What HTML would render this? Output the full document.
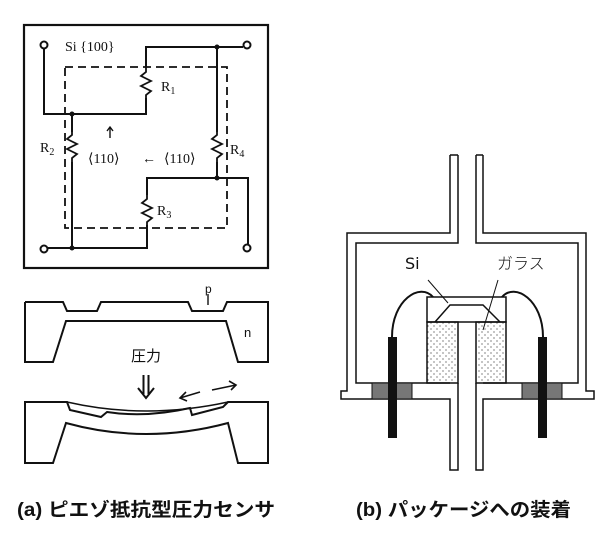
<!DOCTYPE html>
<html><head><meta charset="utf-8"><style>
html,body{margin:0;padding:0;background:#fff;}
svg{display:block;}
</style></head><body>
<svg width="600" height="540" viewBox="0 0 600 540" xmlns="http://www.w3.org/2000/svg">
<defs>
<pattern id="dots" width="6" height="6" patternUnits="userSpaceOnUse">
<circle cx="2" cy="2" r="0.6" fill="#333"/><circle cx="5" cy="5" r="0.6" fill="#333"/>
</pattern>
</defs>
<g fill="none" stroke="#111" stroke-width="2">
<!-- left panel box -->
<rect x="24" y="25" width="244" height="243" stroke-width="2.2"/>
<rect x="65" y="67" width="162" height="161" stroke-dasharray="8,5" stroke-width="1.8"/>
<!-- wires -->
<polyline points="44,49 44,114 146,114 146,98"/>
<polyline points="146,67 146,47 243,47"/>
<polyline points="217,47 217,132"/>
<polyline points="217,162 217,178"/>
<polyline points="147,195 147,178 248,178 248,244"/>
<polyline points="48,248 147,248 147,225"/>
<polyline points="72,114 72,132"/>
<polyline points="72,162 72,248"/>
<!-- resistors -->
<polyline points="146,67 146,72 141,76 151,81 141,86 151,91 146,95 146,98" stroke-width="1.8"/>
<polyline points="72,132 72,135 67,139 77,144 67,149 77,154 72,158 72,162" stroke-width="1.8"/>
<polyline points="217,132 217,135 212,139 222,144 212,149 222,154 217,158 217,162" stroke-width="1.8"/>
<polyline points="147,195 147,199 142,203 152,208 142,213 152,218 147,222 147,225" stroke-width="1.8"/>
<!-- terminals -->
<circle cx="44" cy="45" r="3.5"/><circle cx="247" cy="45" r="3.5"/>
<circle cx="44" cy="249" r="3.5"/><circle cx="247" cy="248" r="3.5"/>
</g>
<g fill="#111">
<circle cx="217" cy="47" r="2.5"/><circle cx="72" cy="114" r="2.5"/>
<circle cx="217" cy="178" r="2.5"/><circle cx="72" cy="248" r="2.5"/>
</g>
<g font-family="Liberation Serif, serif" font-size="14" fill="#111">
<text x="65" y="51">Si {100}</text>
<text x="161" y="91">R<tspan font-size="10" dy="3">1</tspan></text>
<text x="40" y="152">R<tspan font-size="10" dy="3">2</tspan></text>
<text x="157" y="215">R<tspan font-size="10" dy="3">3</tspan></text>
<text x="230" y="154">R<tspan font-size="10" dy="3">4</tspan></text>
<text x="88" y="163">⟨110⟩</text>
<text x="142" y="163">←</text>
<text x="164" y="163">⟨110⟩</text>
</g>
<g stroke="#111" stroke-width="1.4" fill="none"><line x1="110" y1="138" x2="110" y2="127"/><polyline points="107,131 110,127 113,131"/></g>
<!-- cross section top -->
<g fill="none" stroke="#111" stroke-width="2">
<polyline points="25,302 63,302 67,311 97,311 101,302 188,302 192,311 223,311 227,302 268,302 268,362 238,362 226,321 66,321 53,362 25,362 25,302"/>
<line x1="208" y1="294" x2="208" y2="305" stroke-width="1.4"/>
<!-- bottom cross section -->
<path d="M25,402 L67,402 L70,410 L101,417 L107,412 Q146,418 190,408 L192,415 L223,407 L228,402 L268,402 L268,463 L238,463 L228,423 Q146,445 66,423 L53,463 L25,463 Z"/>
<path d="M67,402 Q146,420 228,402" stroke-width="1.5"/>
<!-- pressure arrow -->
<line x1="143.5" y1="375" x2="143.5" y2="394"/><line x1="148.5" y1="375" x2="148.5" y2="394"/>
<polyline points="138,388 146,398 154,388"/>
<!-- strain arrows -->
<line x1="200" y1="392" x2="180" y2="398" stroke-width="1.6"/><polyline points="186,392 180,398 187,401" stroke-width="1.6"/>
<line x1="212" y1="390" x2="236" y2="385" stroke-width="1.6"/><polyline points="229,381 236,385 231,390" stroke-width="1.6"/>
</g>
<g font-family="Liberation Sans, 'Noto Sans CJK JP', sans-serif" fill="#111">
<text x="205" y="293" font-size="12">p</text>
<text x="244" y="337" font-size="13">n</text>
<text x="131" y="361" font-size="15">圧力</text>
</g>
<!-- right panel -->
<g fill="none" stroke="#111" stroke-width="1.5">
<polyline points="450,155 450,233 347,233 347,391 341,391 341,399 450,399 450,470 458,470 458,383"/>
<polyline points="458,155 458,243 356,243 356,383 450,383"/>
<polyline points="483,155 483,233 586,233 586,391 594,391 594,399 483,399 483,470 476,470 476,383"/>
<polyline points="476,155 476,243 578,243 578,383 483,383"/>
<line x1="450" y1="155" x2="458" y2="155"/><line x1="476" y1="155" x2="483" y2="155"/>
<rect x="427" y="297" width="79" height="25" fill="#fff"/>
<polyline points="435,322 450,305 483,305 500,322"/>
<rect x="427" y="322" width="31" height="61" fill="url(#dots)"/>
<rect x="476" y="322" width="30" height="61" fill="url(#dots)"/>
<line x1="428" y1="280" x2="448" y2="303" stroke-width="1"/>
<line x1="498" y1="280" x2="483" y2="330" stroke-width="1"/>
</g>
<g stroke="#111" stroke-width="1">
<rect x="372" y="383" width="40" height="16" fill="#777"/>
<rect x="522" y="383" width="40" height="16" fill="#777"/>
</g>
<rect x="388" y="337" width="9" height="101" fill="#111"/>
<rect x="538" y="337" width="9" height="101" fill="#111"/>
<g fill="none" stroke="#111" stroke-width="2">
<path d="M392,337 C392,300 420,282 433,297"/>
<path d="M543,337 C543,300 515,282 502,297"/>
</g>
<g font-family="'DejaVu Sans', 'Noto Sans CJK JP', sans-serif" font-size="16" fill="#111">
<text x="405" y="269">Si</text>
<text x="497" y="269" font-family="'Noto Sans CJK JP', sans-serif" font-weight="300">ガラス</text>
</g>
<g font-family="'Liberation Sans', 'Noto Sans CJK JP', sans-serif" font-size="19" font-weight="bold" fill="#111">
<text x="17" y="516" textLength="258" lengthAdjust="spacingAndGlyphs">(a) ピエゾ抵抗型圧力センサ</text>
<text x="356" y="516" textLength="215" lengthAdjust="spacingAndGlyphs">(b) パッケージへの装着</text>
</g>
</svg>
</body></html>
